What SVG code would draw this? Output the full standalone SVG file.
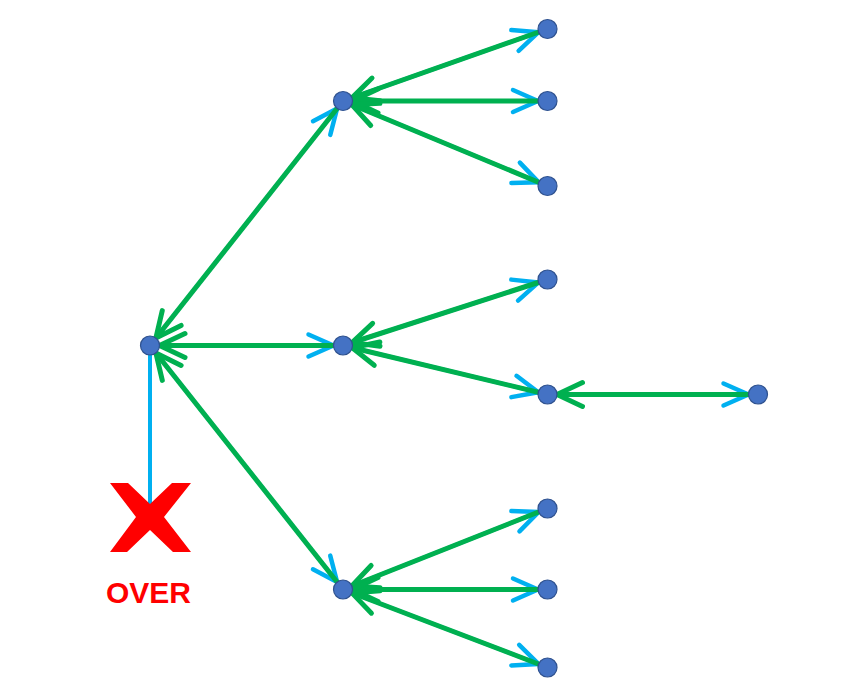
<svg xmlns="http://www.w3.org/2000/svg" width="845" height="690" viewBox="0 0 845 690">
<style>
.b{stroke:#00B0F0;stroke-width:4;fill:none;marker-end:url(#ab)}
.g{stroke:#00B050;stroke-width:5;fill:none;marker-end:url(#ag)}
.n{fill:#4472C4;stroke:#2F528F;stroke-width:1.2}
.t{font-family:"Liberation Sans",Arial,sans-serif;font-weight:bold;font-size:30px;fill:#FF0000}
</style>
<defs>
<marker id="ab" markerUnits="userSpaceOnUse" orient="auto" overflow="visible" markerWidth="10" markerHeight="10" refX="0" refY="0">
<path d="M -34.5 -11 L -9.5 0 L -34.5 11" fill="none" stroke="#00B0F0" stroke-width="4.5" stroke-linecap="round" stroke-linejoin="round"/>
</marker>
<marker id="ag" markerUnits="userSpaceOnUse" orient="auto" overflow="visible" markerWidth="10" markerHeight="10" refX="0" refY="0">
<path d="M -35 -12 L -9.5 0 L -35 12" fill="none" stroke="#00B050" stroke-width="5" stroke-linecap="round" stroke-linejoin="round"/>
</marker>
</defs>
<rect width="845" height="690" fill="#FFFFFF"/>
<g id="connectors">
<line x1="150" y1="345.5" x2="150" y2="505" stroke="#00B0F0" stroke-width="4"/>
<g id="blue">
<line class="b" x1="150" y1="345.5" x2="343" y2="101"/>
<line class="b" x1="150" y1="345.5" x2="343" y2="345.5"/>
<line class="b" x1="150" y1="345.5" x2="343" y2="589.5"/>
<line class="b" x1="343" y1="101" x2="547.5" y2="29"/>
<line class="b" x1="343" y1="101" x2="547.5" y2="101"/>
<line class="b" x1="343" y1="101" x2="547.5" y2="186"/>
<line class="b" x1="343" y1="345.5" x2="547.5" y2="279.5"/>
<line class="b" x1="343" y1="345.5" x2="547.5" y2="394.5"/>
<line class="b" x1="547.5" y1="394.5" x2="758" y2="394.5"/>
<line class="b" x1="343" y1="589.5" x2="547.5" y2="508.5"/>
<line class="b" x1="343" y1="589.5" x2="547.5" y2="589.5"/>
<line class="b" x1="343" y1="589.5" x2="547.5" y2="667.5"/>
</g>
<g id="green">
<line class="g" x2="150" y2="345.5" x1="343" y1="101"/>
<line class="g" x2="150" y2="345.5" x1="343" y1="345.5"/>
<line class="g" x2="150" y2="345.5" x1="343" y1="589.5"/>
<line class="g" x2="343" y2="101" x1="547.5" y1="29"/>
<line class="g" x2="343" y2="101" x1="547.5" y1="101"/>
<line class="g" x2="343" y2="101" x1="547.5" y1="186"/>
<line class="g" x2="343" y2="345.5" x1="547.5" y1="279.5"/>
<line class="g" x2="343" y2="345.5" x1="547.5" y1="394.5"/>
<line class="g" x2="547.5" y2="394.5" x1="758" y1="394.5"/>
<line class="g" x2="343" y2="589.5" x1="547.5" y1="508.5"/>
<line class="g" x2="343" y2="589.5" x1="547.5" y1="589.5"/>
<line class="g" x2="343" y2="589.5" x1="547.5" y1="667.5"/>
</g>
</g>
<g id="root"><circle class="n" cx="150" cy="345.5" r="9.5"/></g>
<g id="b1"><circle class="n" cx="343" cy="101" r="9.5"/></g>
<g id="b2"><circle class="n" cx="343" cy="345.5" r="9.5"/></g>
<g id="b3"><circle class="n" cx="343" cy="589.5" r="9.5"/></g>
<g id="c1"><circle class="n" cx="547.5" cy="29" r="9.5"/></g>
<g id="c2"><circle class="n" cx="547.5" cy="101" r="9.5"/></g>
<g id="c3"><circle class="n" cx="547.5" cy="186" r="9.5"/></g>
<g id="c4"><circle class="n" cx="547.5" cy="279.5" r="9.5"/></g>
<g id="c5"><circle class="n" cx="547.5" cy="394.5" r="9.5"/></g>
<g id="d1"><circle class="n" cx="758" cy="394.5" r="9.5"/></g>
<g id="c6"><circle class="n" cx="547.5" cy="508.5" r="9.5"/></g>
<g id="c7"><circle class="n" cx="547.5" cy="589.5" r="9.5"/></g>
<g id="c8"><circle class="n" cx="547.5" cy="667.5" r="9.5"/></g>
<g id="over">
<polygon points="110,483 128,483 150,504 172,483 191,483 164,517 191,552 173,552 150,530 127,552 110,552 136,517" fill="#FF0000"/>
<text class="t" x="148.5" y="602.5" text-anchor="middle">OVER</text>
</g>
</svg>
